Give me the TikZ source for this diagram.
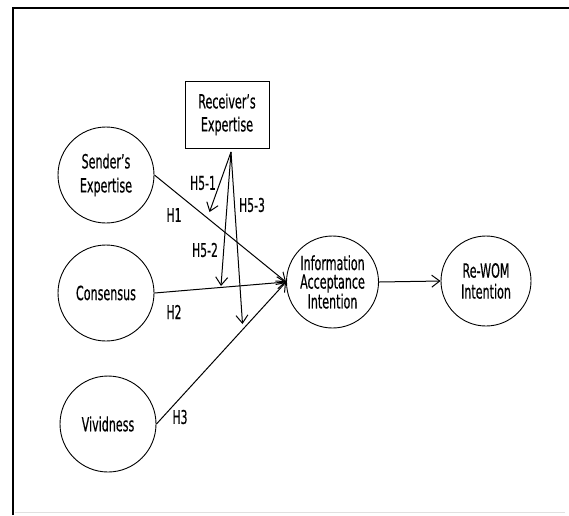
\documentclass[tikz,border=0pt]{standalone}
\usepackage{fontspec}
\setmainfont{DejaVu Sans}[FakeStretch=0.57,FakeBold=0.4]
\usetikzlibrary{arrows.meta}
\tikzset{
  lbl/.style={font=\fontsize{19.5}{24}\selectfont, align=center, inner sep=0pt},
  construct/.style={draw, circle, line width=0.9pt, lbl},
  boxnode/.style={draw, rectangle, line width=0.9pt, lbl},
  path/.style={draw, line width=1pt, -{Straight Barb[length=8pt,width=12pt]}},
  hyp/.style={font=\fontsize{19}{20}\selectfont, inner sep=0pt}
}
\begin{document}
\begin{tikzpicture}[x=1pt,y=-1pt]
\useasboundingbox (0,0) rectangle (569,515);
\draw[line width=1.5pt] (13,515) -- (13,8) -- (569,8);
\draw[black!12, line width=0.8pt] (15,512) -- (565,512);

\node[construct, minimum size=96pt] (send) at (106,175) {Sender's\\Expertise};
\node[construct, minimum size=96pt] (cons) at (106,293) {Consensus};
\node[construct, minimum size=96pt] (viv) at (108,424) {Vividness};
\node[boxnode, minimum width=84pt, minimum height=67pt, font=\fontsize{19.5}{23}\selectfont] (recv) at (227,114.5) {Receiver's\\Expertise};
\node[construct, minimum size=92pt, font=\fontsize{19.5}{18.5}\selectfont] (info) at (332.5,282) {Information\\Acceptance\\Intention};
\node[construct, minimum size=90pt, font=\fontsize{19.5}{21}\selectfont] (rewom) at (486,281) {Re-WOM\\Intention};

\coordinate (apex) at (231,152);
\coordinate (t1) at (209.5,212);
\coordinate (t2) at (221,286);
\coordinate (t3) at (242.5,324);

\draw[path] (send.east) -- (info.west);
\draw[path] (cons.east) -- (info.west);
\draw[path] (viv.east) -- (info.west);
\draw[path] (info.east) -- (rewom.west);
\draw[path] (apex) -- (t1);
\draw[path] (apex) -- (t2);
\draw[path] (apex) -- (t3);

\node[hyp] (l51) at (203,183) {H5-1};
\node[hyp] (l1) at (174,215) {H1};
\node[hyp] (l53) at (252,205) {H5-3};
\node[hyp] (l52) at (205,250) {H5-2};
\node[hyp] (l2) at (174,312) {H2};
\node[hyp] (l3) at (180,417) {H3};
\end{tikzpicture}
\end{document}
